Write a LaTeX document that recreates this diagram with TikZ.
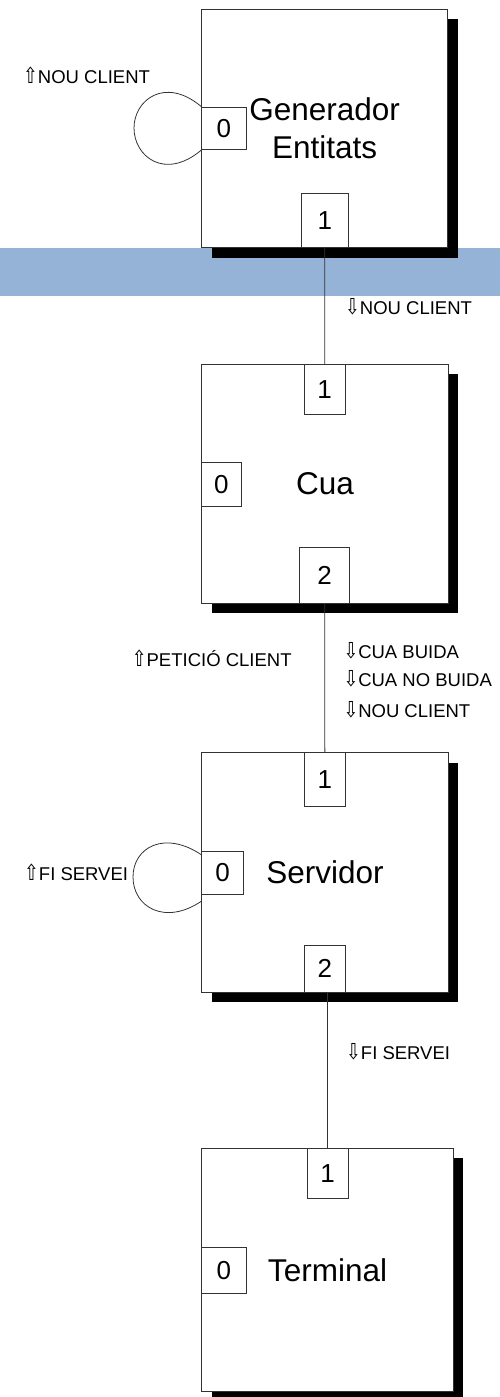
\documentclass[tikz,border=0pt]{standalone}
\usepackage{fontspec}
\setmainfont{Liberation Sans}
\newfontfamily\arrowfont{DejaVu Sans}
\usetikzlibrary{shadows}
\definecolor{bandblue}{HTML}{95B3D7}
\tikzset{
  block/.style={draw=black!80, line width=0.8pt, fill=white, inner sep=0pt, align=center,
    font=\fontsize{31.5}{37.7}\selectfont,
    drop shadow={shadow xshift=10pt, shadow yshift=-10pt, opacity=1, fill=black}},
  port/.style={draw=black!80, line width=0.8pt, fill=white, inner sep=0pt,
    font=\fontsize{26}{26}\selectfont},
  conn/.style={draw=black!80, line width=0.8pt},
  lbl/.style={anchor=base west, inner sep=0pt, font=\fontsize{18.5}{18.5}\selectfont},
}
\newcommand{\UpA}{{\arrowfont\fontsize{22}{22}\selectfont\scalebox{0.8}[1]{⇧}}}
\newcommand{\DnA}{{\arrowfont\fontsize{22}{22}\selectfont\scalebox{0.8}[1]{⇩}}}
\begin{document}
\begin{tikzpicture}[x=1pt,y=-1pt]
\useasboundingbox (0,0) rectangle (500,1397);
% band
\fill[bandblue] (0,247.7) rectangle (500,295.7);
% blocks
\node[block, minimum width=246pt, minimum height=238.7pt] (gen) at (324.7,128.3) {Generador\\Entitats};
\node[block, minimum width=246.6pt, minimum height=239pt] (cua) at (325,483.8) {Cua};
\node[block, minimum width=246.6pt, minimum height=239.6pt] (serv) at (325,872.5) {Servidor};
\node[block, minimum width=251.6pt, minimum height=243.4pt] (term) at (327.5,1270) {Terminal};
% ports
\node[port, minimum width=44.3pt, minimum height=42.7pt] (gp0) at (223.85,128.35) {0};
\node[port, minimum width=47pt, minimum height=54.4pt] (gp1) at (324.8,220.5) {1};
\node[port, minimum width=41.3pt, minimum height=50pt] (cp1) at (324.65,389.3) {1};
\node[port, minimum width=39.3pt, minimum height=43.3pt] (cp0) at (221.35,484.35) {0};
\node[port, minimum width=50pt, minimum height=56pt] (cp2) at (324.7,575.3) {2};
\node[port, minimum width=41.7pt, minimum height=53.3pt] (sp1) at (324.85,779.35) {1};
\node[port, minimum width=41.6pt, minimum height=43pt] (sp0) at (222.5,872.8) {0};
\node[port, minimum width=41.7pt, minimum height=47.3pt] (sp2) at (324.85,968.65) {2};
\node[port, minimum width=41.3pt, minimum height=50.4pt] (tp1) at (327.65,1173.5) {1};
\node[port, minimum width=44.3pt, minimum height=46pt] (tp0) at (223.85,1270.3) {0};
% connectors
\draw[conn] (gp1.south) -- (cp1.north);
\draw[conn] (cp2.south) -- (sp1.north);
\draw[conn] (tp1.north) -- (tp1.north |- sp2.south);
% loops
\draw[conn] (gp0.north west) .. controls (165,76) and (134,100) .. (134,128)
  .. controls (134,156.7) and (165,180.7) .. (gp0.south west);
\coordinate (sl1) at (201.7,855);
\coordinate (sl2) at (201.7,901);
\draw[conn] (sl1) .. controls (165,830) and (133,847) .. (133,877)
  .. controls (133,907) and (165,926) .. (sl2);
% labels
\node[lbl] (l1) at (23,83.3) {\UpA NOU CLIENT};
\node[lbl] (l2) at (345,314.3) {\DnA NOU CLIENT};
\node[lbl] (l3) at (131.7,666.7) {\UpA PETICIÓ CLIENT};
\node[lbl] (l4) at (343.3,658.3) {\DnA CUA BUIDA};
\node[lbl] (l5) at (343.3,686.7) {\DnA CUA NO BUIDA};
\node[lbl] (l6) at (343.3,717.3) {\DnA NOU CLIENT};
\node[lbl] (l7) at (24,880.7) {\UpA FI SERVEI};
\node[lbl] (l8) at (346,1059.3) {\DnA FI SERVEI};
\end{tikzpicture}
\end{document}
